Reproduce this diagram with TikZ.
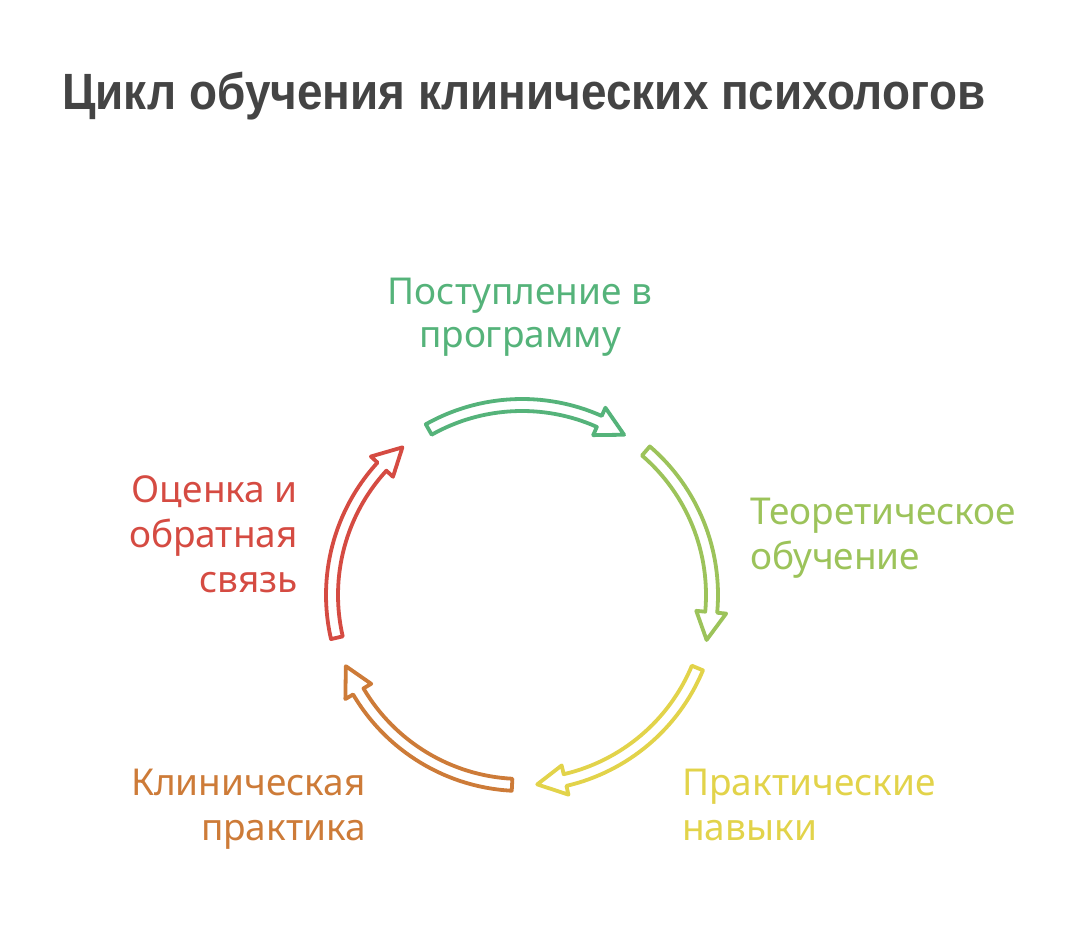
\documentclass[tikz,border=0pt]{standalone}
\usepackage{fontspec}
\usepackage{graphicx}
\setmainfont{Noto Sans}
\newfontfamily\titlefont{Liberation Sans}
\definecolor{cgreen}{HTML}{55B37A}
\definecolor{colive}{HTML}{9CC35A}
\definecolor{cyellow}{HTML}{E2D34A}
\definecolor{corange}{HTML}{CD7B38}
\definecolor{cred}{HTML}{D54B42}
\definecolor{ctitle}{HTML}{444444}
\newcommand{\Rr}{190}
\newcommand{\cyclearrow}[4]{%
  \draw[cyclearr, draw=#2] (#3:\Rr+6) coordinate (#1s)
    arc[start angle=#3, end angle=#4+8.5, radius=\Rr+6]
    -- (#4+8.5:\Rr+15) -- (#4:\Rr) coordinate (#1t) -- (#4+8.5:\Rr-15)
    -- (#4+8.5:\Rr-6)
    arc[start angle=#4+8.5, end angle=#3, radius=\Rr-6] -- cycle;}
\begin{document}
\begin{tikzpicture}[x=1pt,y=1pt,
  cyclearr/.style={line width=3.8pt, line join=round, fill=white},
  lbl/.style={font=\fontsize{37}{44}\selectfont, inner sep=0pt},
  ttl/.style={font=\titlefont\fontsize{51}{60}\selectfont\bfseries, inner sep=0pt, text=ctitle}]
\useasboundingbox (0,0) rectangle (1078,948);
\node[ttl, anchor=base west] (title) at (62,838) {\resizebox{923pt}{\height}{Цикл обучения клинических психологов}};
\begin{scope}[shift={(522,353)}]
\cyclearrow{a1}{cgreen}{119.4}{57.5}
\cyclearrow{a2}{colive}{49.3}{-13.7}
\cyclearrow{a3}{cyellow}{-22.6}{-85.4}
\cyclearrow{a4}{corange}{-93}{-158}
\cyclearrow{a5}{cred}{193}{129}
\end{scope}
% green label
\node[lbl, text=cgreen, anchor=base] (g1) at (520,643) {Поступление в};
\node[lbl, text=cgreen, anchor=base] (g2) at (520,600) {программу};
% olive
\node[lbl, text=colive, anchor=base west] (o1) at (750,423) {Теоретическое};
\node[lbl, text=colive, anchor=base west] (o2) at (750,378) {обучение};
% yellow
\node[lbl, text=cyellow, anchor=base west] (y1) at (682,153) {Практические};
\node[lbl, text=cyellow, anchor=base west] (y2) at (682,108) {навыки};
% orange
\node[lbl, text=corange, anchor=base east] (r1) at (366,153) {Клиническая};
\node[lbl, text=corange, anchor=base east] (r2) at (366,108) {практика};
% red
\node[lbl, text=cred, anchor=base east] (e1) at (298,445) {Оценка и};
\node[lbl, text=cred, anchor=base east] (e2) at (298,400) {обратная};
\node[lbl, text=cred, anchor=base east] (e3) at (298,355) {связь};
\end{tikzpicture}
\end{document}
